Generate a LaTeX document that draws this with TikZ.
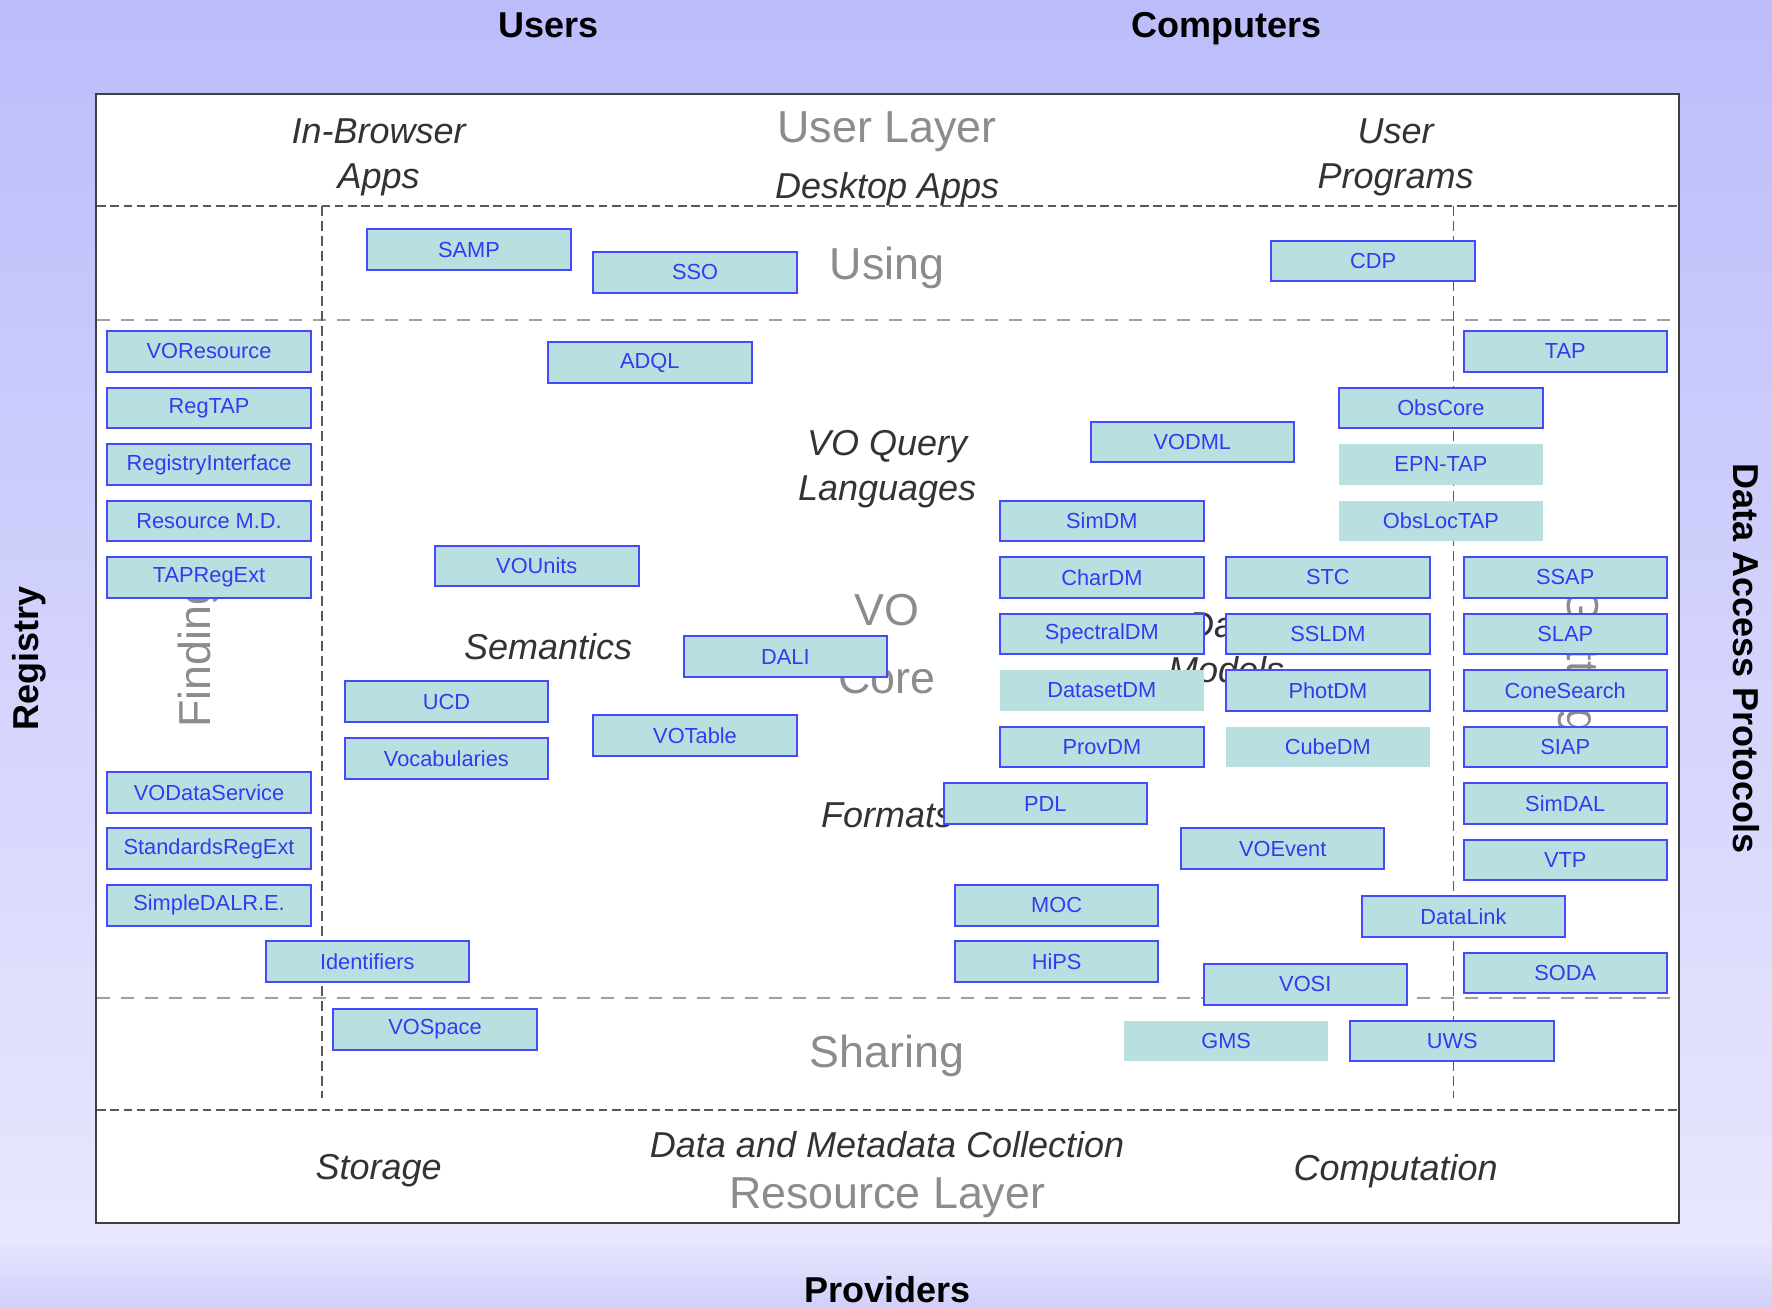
\documentclass[tikz,border=0pt]{standalone}
\usepackage{fontspec}
\setmainfont{Liberation Sans}

\definecolor{bgtop}{RGB}{188,188,251}
\definecolor{bgmid}{RGB}{231,231,254}
\definecolor{bgbot}{RGB}{208,208,250}
\definecolor{boxfill}{RGB}{185,224,225}
\definecolor{boxline}{RGB}{72,72,255}
\definecolor{boxtext}{RGB}{56,56,240}
\definecolor{layergray}{RGB}{140,140,140}
\definecolor{labeldark}{RGB}{51,51,51}

\begin{document}
\begin{tikzpicture}[x=0.565pt,y=-0.565pt,
	stdbox/.style={draw=boxline,line width=1pt,fill=boxfill,text=boxtext,
		minimum width=101.7pt,minimum height=20.3pt,inner sep=0pt,
		font=\fontsize{10.9}{12}\selectfont},
	plainbox/.style={stdbox,draw=none},
	side/.style={font=\fontsize{18}{22}\bfseries,text=black,inner sep=0pt},
	area/.style={font=\fontsize{18}{22.6}\itshape,text=labeldark,align=center},
	layer/.style={font=\fontsize{22.4}{33.9}\selectfont,text=layergray,align=center},
	lightdash/.style={draw=black!38,line width=1pt,dash pattern=on 6.3pt off 5.7pt},
	darkdash/.style={draw=black!65,line width=1pt,dash pattern=on 4.3pt off 2.3pt},
	coldash/.style={draw=black!65,line width=0.6pt,dash pattern=on 5pt off 2.5pt}]
	%\draw[help lines,step=100] (0,0) grid (1568,1156);
	\useasboundingbox (0,0) rectangle (1568,1156);
	
	%BACKGROUND
	\shade[top color=bgtop,bottom color=bgmid] (0,0) rectangle (1568,1097);
	\shade[top color=bgmid,bottom color=bgbot] (0,1097) rectangle (1568,1156);
	\draw[draw=black!75,line width=1pt,fill=white] (85,83) rectangle (1486,1082);
	
	%LAYERS
	\draw[darkdash] (86,182) -- (1485,182);
	\draw[lightdash] (86,283) -- (1485,283);
	\draw[lightdash] (86,883) -- (1485,883);
	\draw[darkdash] (86,982) -- (1485,982);
	\draw[coldash] (285,182) -- (285,972);
	\draw[coldash] (1286,182) -- (1286,972);
	
	%OUTSIDE
	\node[side] (users) at (485,22) {Users};
	\node[side] (computers) at (1085,25) {Computers};
	\node[side] (providers) at (785,1141) {Providers};
	\node[side,rotate=90] (registry) at (26,583) {Registry};
	\node[side,rotate=-90] (dap) at (1545,583) {Data Access Protocols};
	
	%AREAS
	\node[area] (browser) at (335,139) {In-Browser\\Apps};
	\node[layer] (userlayer) at (785,117) {User Layer};
	\node[area] (desktop) at (785,167) {Desktop Apps};
	\node[area] (programs) at (1235,139) {User\\Programs};
	\node[layer] (using) at (785,237) {Using};
	\node[area] (query) at (785,415) {VO Query\\Languages};
	\node[layer] (core) at (785,570) {VO\\Core};
	\node[area] (semantics) at (485,572) {Semantics};
	\node[area] (models) at (1085,573) {Data\\Models};
	\node[area] (formats) at (785,721) {Formats};
	\node[layer,rotate=90] (finding) at (176,579) {Finding};
	\node[layer,rotate=-90] (getting) at (1397,585) {Getting};
	\node[layer] (sharing) at (785,934) {Sharing};
	\node[area] (collection) at (785,1013) {Data and Metadata Collection};
	\node[layer] (resource) at (785,1060) {Resource Layer};
	\node[area] (storage) at (335,1036) {Storage};
	\node[area] (computation) at (1235,1036) {Computation};
	
	%USING
	\node[stdbox] (samp) at (415,221) {SAMP};
	\node[stdbox] (sso) at (615,241) {SSO};
	\node[stdbox] (cdp) at (1215,231) {CDP};
	
	%REGISTRY
	\node[stdbox] (voresource) at (185,311) {VOResource};
	\node[stdbox] (regtap) at (185,361) {RegTAP};
	\node[stdbox] (reginterface) at (185,411) {RegistryInterface};
	\node[stdbox] (resmd) at (185,461) {Resource M.D.};
	\node[stdbox] (tapregext) at (185,511) {TAPRegExt};
	\node[stdbox] (vodataservice) at (185,701) {VODataService};
	\node[stdbox] (stdregext) at (185,751) {StandardsRegExt};
	\node[stdbox] (simpledalre) at (185,801) {SimpleDALR.E.};
	\node[stdbox] (identifiers) at (325,851) {Identifiers};
	
	%CORE
	\node[stdbox] (adql) at (575,321) {ADQL};
	\node[stdbox] (vounits) at (475,501) {VOUnits};
	\node[stdbox] (dali) at (695,581) {DALI};
	\node[stdbox] (ucd) at (395,621) {UCD};
	\node[stdbox] (vocab) at (395,671) {Vocabularies};
	\node[stdbox] (votable) at (615,651) {VOTable};
	\node[stdbox] (pdl) at (925,711) {PDL};
	\node[stdbox] (voevent) at (1135,751) {VOEvent};
	\node[stdbox] (moc) at (935,801) {MOC};
	\node[stdbox] (hips) at (935,851) {HiPS};
	
	%DATA MODELS
	\node[stdbox] (vodml) at (1055,391) {VODML};
	\node[stdbox] (simdm) at (975,461) {SimDM};
	\node[stdbox] (chardm) at (975,511) {CharDM};
	\node[stdbox] (spectraldm) at (975,561) {SpectralDM};
	\node[plainbox] (datasetdm) at (975,611) {DatasetDM};
	\node[stdbox] (provdm) at (975,661) {ProvDM};
	\node[stdbox] (stc) at (1175,511) {STC};
	\node[stdbox] (ssldm) at (1175,561) {SSLDM};
	\node[stdbox] (photdm) at (1175,611) {PhotDM};
	\node[plainbox] (cubedm) at (1175,661) {CubeDM};
	
	%DATA ACCESS
	\node[stdbox] (tap) at (1385,311) {TAP};
	\node[stdbox] (obscore) at (1275,361) {ObsCore};
	\node[plainbox] (epntap) at (1275,411) {EPN-TAP};
	\node[plainbox] (obsloctap) at (1275,461) {ObsLocTAP};
	\node[stdbox] (ssap) at (1385,511) {SSAP};
	\node[stdbox] (slap) at (1385,561) {SLAP};
	\node[stdbox] (conesearch) at (1385,611) {ConeSearch};
	\node[stdbox] (siap) at (1385,661) {SIAP};
	\node[stdbox] (simdal) at (1385,711) {SimDAL};
	\node[stdbox] (vtp) at (1385,761) {VTP};
	\node[stdbox] (datalink) at (1295,811) {DataLink};
	\node[stdbox] (soda) at (1385,861) {SODA};
	\node[stdbox] (vosi) at (1155,871) {VOSI};
	
	%SHARING
	\node[stdbox] (vospace) at (385,911) {VOSpace};
	\node[plainbox] (gms) at (1085,921) {GMS};
	\node[stdbox] (uws) at (1285,921) {UWS};
	
\end{tikzpicture}
\end{document}
